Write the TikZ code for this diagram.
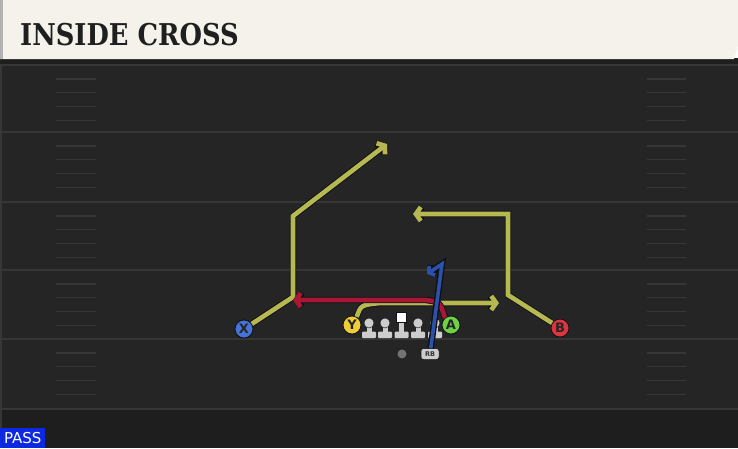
\documentclass[tikz,border=0pt]{standalone}
\usepackage{fontspec}
\setsansfont{DejaVu Sans}
\newfontfamily\titlefont{DejaVu Serif}
\usetikzlibrary{arrows.meta, positioning, shapes}
\definecolor{field}{RGB}{37,37,37}
\definecolor{fieldlow}{RGB}{30,30,30}
\definecolor{yardline}{RGB}{54,54,54}
\definecolor{header}{RGB}{245,242,235}
\definecolor{routey}{RGB}{182,185,80}
\definecolor{router}{RGB}{168,24,54}
\definecolor{routeb}{RGB}{42,82,172}
\definecolor{routeedge}{RGB}{16,16,22}
\definecolor{xblue}{RGB}{70,115,215}
\definecolor{yyellow}{RGB}{240,205,55}
\definecolor{agreen}{RGB}{110,210,70}
\definecolor{bred}{RGB}{222,52,62}
\definecolor{olgray}{RGB}{205,205,205}
\definecolor{passblue}{RGB}{12,40,225}

\begin{document}
\begin{tikzpicture}[x=1pt, y=-1pt]
\tikzstyle{player} = [circle, draw=routeedge, line width=0.8pt, minimum size=18pt,
    inner sep=0pt, text=black!85, font=\sffamily\bfseries\fontsize{13}{13}\selectfont]
\tikzstyle{route} = [line width=4.6pt, line join=miter, line cap=butt,
    preaction={draw=routeedge, line width=6.4pt}]
\tikzstyle{tip} = [-{Straight Barb[length=5pt, width=14pt]}]
\tikzstyle{lineman} = [fill=olgray]
\useasboundingbox (0,0) rectangle (738,448);

    % Field
    \fill[field] (0,59) rectangle (738,448);
    \fill[fieldlow] (0,410) rectangle (738,448);
    \draw[yardline, line width=1.5pt] (1,64) -- (1,448);
    \foreach \yl in {65,132,202,270,339,409} {
        \draw[yardline, line width=2.4pt] (0,\yl) -- (738,\yl);
    }
    \foreach \yl in {65,132,202,270,339} {
        \foreach \off in {14,27.5,41.5,55.5} {
            \draw[yardline, line width=1.8pt] (56,\yl+\off) -- (96,\yl+\off);
            \draw[yardline, line width=1.8pt] (647,\yl+\off) -- (686,\yl+\off);
        }
    }

    % Header
    \fill[black!88] (0,58) rectangle (738,64);
    \fill[header] (0,0) -- (738,0) -- (738,46) -- (734,59) -- (0,59) -- cycle;
    \fill[black!30] (0,0) rectangle (3,59);
    \node [anchor=base west, inner sep=0pt, text=black!88] (title) at (20,45)
        {\scalebox{0.86}[1]{\titlefont\bfseries\fontsize{30}{30}\selectfont INSIDE CROSS}};

    % Place nodes
    \node [player, fill=xblue] (xrec) at (244,329) {X};
    \node [player, fill=yyellow] (yrec) at (352,325) {Y};
    \node [player, fill=agreen] (arec) at (451,325) {A};
    \node [player, fill=bred] (brec) at (560,328) {B};
    \node [circle, fill=black!55, minimum size=9pt, inner sep=0pt] (qb) at (402,354) {};
    \node [rectangle, rounded corners=2.5pt, fill=olgray, draw=routeedge, line width=0.5pt,
        minimum width=18pt, minimum height=11pt, inner sep=0pt, text=black!80,
        font=\sffamily\bfseries\fontsize{6.5}{6.5}\selectfont] (rb) at (430,354) {RB};

    % Line
    \foreach \lx in {369,385,418,435} {
        \fill[lineman] (\lx-2.5,324) rectangle (\lx+2.5,334);
        \fill[lineman, rounded corners=1pt] (\lx-7,331.5) rectangle (\lx+7,338);
        \fill[lineman, draw=routeedge, line width=0.4pt] (\lx,323) circle (5);
    }
    \fill[lineman] (399,321) rectangle (404,334);
    \fill[lineman, rounded corners=1pt] (394.5,331.5) rectangle (408.5,338);
    \fill[white, draw=routeedge, line width=0.4pt] (396.5,312) rectangle (406.5,322);

    % Route points
    \coordinate (xlow) at (293,297);
    \coordinate (xhigh) at (293,216);
    \coordinate (xend) at (387,144);
    \coordinate (blow) at (508,295);
    \coordinate (bhigh) at (508,214);
    \coordinate (bend) at (413,214);
    \coordinate (yend) at (499,303);
    \coordinate (rend) at (293,300);
    \coordinate (rbtop) at (442,264);
    \coordinate (rbend) at (427,274);

%paths
    \draw [route, routey, tip] (xrec) -- (xlow) -- (xhigh) -- (xend);
    \draw [route, routey, tip] (brec) -- (blow) -- (bhigh) -- (bend);
    \draw [route, routey, tip] (yrec.60) .. controls (361,305) .. (380,303) -- (yend);
    \draw [route, router, tip] (arec.130) .. controls (440,302) .. (426,300) -- (rend);
    \draw [route, routeb, line width=3.6pt, preaction={draw=routeedge, line width=5pt},
        -{Straight Barb[length=4pt, width=11pt]}] (rb) -- (rbtop) -- (rbend);

    % Tag
    \node [fill=passblue, text=white, anchor=south west, minimum width=45pt,
        minimum height=20pt, inner sep=1pt, font=\sffamily\fontsize{15}{15}\selectfont]
        (pass) at (0,448) {PASS};
\end{tikzpicture}
\end{document}
